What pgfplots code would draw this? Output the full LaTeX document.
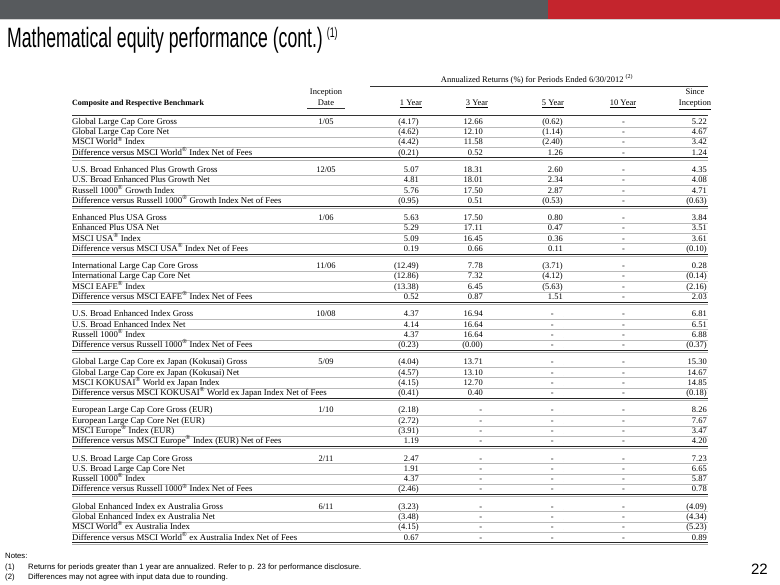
\documentclass[border=0pt]{standalone}
\usepackage{pgfplots}
\pgfplotsset{compat=1.18}
\usepackage{pgfplotstable}
\usepackage{fontspec}
\setmainfont{Liberation Serif}
\newfontfamily\titlefont[FakeStretch=0.63]{Liberation Sans}
\newfontfamily\notefont{Liberation Sans}
\definecolor{barGray}{RGB}{87,90,93}
\definecolor{barRed}{RGB}{196,37,45}
\protected\def\R{\textsuperscript{\textregistered}\space}
\def\tabsize{\fontsize{8.5bp}{10bp}\selectfont}
\def\namesize{\fontsize{8.8bp}{10bp}\selectfont}
\def\dashstr{-}
\newcommand\cell[2]{\edef\tmp{#1}\ifx\tmp\dashstr -\hspace*{#2}\else#1\fi}
\pgfplotsset{txt/.style={only marks, mark=*, mark size=0pt, mark options={draw=none, fill=none}, scatter/use mapped color={draw=none, fill=none}, point meta=explicit symbolic, forget plot}}

\pgfplotstableread[col sep=semicolon]{
g;r;name;y1;y3;y5;y10;si
0;0;Global Large Cap Core Gross;(4.17);12.66;(0.62);-;5.22
0;1;Global Large Cap Core Net;(4.62);12.10;(1.14);-;4.67
0;2;MSCI World\R Index;(4.42);11.58;(2.40);-;3.42
0;3;Difference versus MSCI World\R Index Net of Fees;(0.21);0.52;1.26;-;1.24
1;0;U.S. Broad Enhanced Plus Growth Gross;5.07;18.31;2.60;-;4.35
1;1;U.S. Broad Enhanced Plus Growth Net;4.81;18.01;2.34;-;4.08
1;2;Russell 1000\R Growth Index;5.76;17.50;2.87;-;4.71
1;3;Difference versus Russell 1000\R Growth Index Net of Fees;(0.95);0.51;(0.53);-;(0.63)
2;0;Enhanced Plus USA Gross;5.63;17.50;0.80;-;3.84
2;1;Enhanced Plus USA Net;5.29;17.11;0.47;-;3.51
2;2;MSCI USA\R Index;5.09;16.45;0.36;-;3.61
2;3;Difference versus MSCI USA\R Index Net of Fees;0.19;0.66;0.11;-;(0.10)
3;0;International Large Cap Core Gross;(12.49);7.78;(3.71);-;0.28
3;1;International Large Cap Core Net;(12.86);7.32;(4.12);-;(0.14)
3;2;MSCI EAFE\R Index;(13.38);6.45;(5.63);-;(2.16)
3;3;Difference versus MSCI EAFE\R Index Net of Fees;0.52;0.87;1.51;-;2.03
4;0;U.S. Broad Enhanced Index Gross;4.37;16.94;-;-;6.81
4;1;U.S. Broad Enhanced Index Net;4.14;16.64;-;-;6.51
4;2;Russell 1000\R Index;4.37;16.64;-;-;6.88
4;3;Difference versus Russell 1000\R Index Net of Fees;(0.23);(0.00);-;-;(0.37)
5;0;Global Large Cap Core ex Japan (Kokusai) Gross;(4.04);13.71;-;-;15.30
5;1;Global Large Cap Core ex Japan (Kokusai) Net;(4.57);13.10;-;-;14.67
5;2;MSCI KOKUSAI\R World ex Japan Index;(4.15);12.70;-;-;14.85
5;3;Difference versus MSCI KOKUSAI\R World ex Japan Index Net of Fees;(0.41);0.40;-;-;(0.18)
6;0;European Large Cap Core Gross (EUR);(2.18);-;-;-;8.26
6;1;European Large Cap Core Net (EUR);(2.72);-;-;-;7.67
6;2;MSCI Europe\R Index (EUR);(3.91);-;-;-;3.47
6;3;Difference versus MSCI Europe\R Index (EUR) Net of Fees;1.19;-;-;-;4.20
7;0;U.S. Broad Large Cap Core Gross;2.47;-;-;-;7.23
7;1;U.S. Broad Large Cap Core Net;1.91;-;-;-;6.65
7;2;Russell 1000\R Index;4.37;-;-;-;5.87
7;3;Difference versus Russell 1000\R Index Net of Fees;(2.46);-;-;-;0.78
8;0;Global Enhanced Index ex Australia Gross;(3.23);-;-;-;(4.09)
8;1;Global Enhanced Index ex Australia Net;(3.48);-;-;-;(4.34)
8;2;MSCI World\R ex Australia Index;(4.15);-;-;-;(5.23)
8;3;Difference versus MSCI World\R ex Australia Index Net of Fees;0.67;-;-;-;0.89
}\tbl

\pgfplotstableread[col sep=semicolon]{
g;date
0;1/05
1;12/05
2;1/06
3;11/06
4;10/08
5;5/09
6;1/10
7;2/11
8;6/11
}\dates

\begin{document}
\begin{tikzpicture}
\useasboundingbox (0,0) rectangle (780bp,585bp);
\fill[white] (0,0) rectangle (780bp,585bp);
\begin{axis}[at={(0,0)}, anchor=south west, width=780bp, height=585bp, scale only axis,
  xmin=0, xmax=780, ymin=0, ymax=585, y dir=reverse, hide axis, clip=false]
% top bars
\fill[barGray] (axis cs:0,0) rectangle (axis cs:548,19);
\fill[barRed] (axis cs:548,0) rectangle (axis cs:780,19);
\draw[gray!35, line width=1bp] (axis cs:0,19.5) -- (axis cs:780,19.5);
% title
\node[anchor=base west, inner sep=0pt] at (axis cs:7,48)
  {\titlefont\fontsize{28bp}{30bp}\selectfont Mathematical equity performance (cont.)\hspace{4bp}\raisebox{10bp}{\fontsize{14bp}{16bp}\selectfont(1)}};
% header
\node[anchor=base, inner sep=0pt] at (axis cs:537,82.5) {\tabsize Annualized Returns (\%) for Periods Ended 6/30/2012 \textsuperscript{(2)}};
\draw[gray!40!black, line width=0.9bp] (axis cs:370,86.5) -- (axis cs:708,86.5);
\node[anchor=base, inner sep=0pt] at (axis cs:326,94.5) {\tabsize Inception};
\node[anchor=base, inner sep=0pt] at (axis cs:326,105.5) {\tabsize Date};
\draw[gray!40!black, line width=0.8bp] (axis cs:307,108.5) -- (axis cs:345,108.5);
\node[anchor=base west, inner sep=0pt] at (axis cs:72,105.5) {\fontsize{8bp}{10bp}\selectfont\bfseries Composite and Respective Benchmark};
\node[anchor=base, inner sep=0pt] at (axis cs:411,105.5) {\tabsize\underline{1 Year}};
\node[anchor=base, inner sep=0pt] at (axis cs:477,105.5) {\tabsize\underline{3 Year}};
\node[anchor=base, inner sep=0pt] at (axis cs:553,105.5) {\tabsize\underline{5 Year}};
\node[anchor=base, inner sep=0pt] at (axis cs:623,105.5) {\tabsize\underline{10 Year}};
\node[anchor=base, inner sep=0pt] at (axis cs:695,94.5) {\tabsize Since};
\node[anchor=base, inner sep=0pt] at (axis cs:695,105.5) {\tabsize\underline{Inception}};
\draw[gray!40!black, line width=0.9bp] (axis cs:72,115) -- (axis cs:708,115);
% row rules
\pgfplotsinvokeforeach{0,...,8}{
  \draw[gray!55, line width=0.5bp] (axis cs:72,{124.3+48.1*#1+2.6}) -- (axis cs:708,{124.3+48.1*#1+2.6});
  \draw[gray!55, line width=0.5bp] (axis cs:72,{124.3+48.1*#1+12.9}) -- (axis cs:708,{124.3+48.1*#1+12.9});
  \draw[gray!55, line width=0.5bp] (axis cs:72,{124.3+48.1*#1+23.2}) -- (axis cs:708,{124.3+48.1*#1+23.2});
  \draw[gray!30!black, line width=0.8bp] (axis cs:72,{124.3+48.1*#1+33.5}) -- (axis cs:708,{124.3+48.1*#1+33.5});
  \draw[gray!60, line width=1bp] (axis cs:72,{124.3+48.1*#1+35.8}) -- (axis cs:708,{124.3+48.1*#1+35.8});
}
% table text
\addplot[txt, nodes near coords={\pgfplotspointmeta}, every node near coord/.style={anchor=base west, inner sep=0pt, font=\namesize}]
  table[x expr=72, y expr={124.3+48.1*\thisrow{g}+10.3*\thisrow{r}}, meta=name]{\tbl};
\addplot[txt, nodes near coords={\pgfplotspointmeta}, every node near coord/.style={anchor=base, inner sep=0pt, font=\tabsize}]
  table[x expr=326, y expr={124.3+48.1*\thisrow{g}}, meta=date]{\dates};
\addplot[txt, nodes near coords={\cell{\pgfplotspointmeta}{0bp}}, every node near coord/.style={anchor=base east, inner sep=0pt, font=\tabsize}]
  table[x expr=419, y expr={124.3+48.1*\thisrow{g}+10.3*\thisrow{r}}, meta=y1]{\tbl};
\addplot[txt, nodes near coords={\cell{\pgfplotspointmeta}{0.7bp}}, every node near coord/.style={anchor=base east, inner sep=0pt, font=\tabsize}]
  table[x expr=483, y expr={124.3+48.1*\thisrow{g}+10.3*\thisrow{r}}, meta=y3]{\tbl};
\addplot[txt, nodes near coords={\cell{\pgfplotspointmeta}{9bp}}, every node near coord/.style={anchor=base east, inner sep=0pt, font=\tabsize}]
  table[x expr=563, y expr={124.3+48.1*\thisrow{g}+10.3*\thisrow{r}}, meta=y5]{\tbl};
\addplot[txt, nodes near coords={\pgfplotspointmeta}, every node near coord/.style={anchor=base, inner sep=0pt, font=\tabsize}]
  table[x expr=623.5, y expr={124.3+48.1*\thisrow{g}+10.3*\thisrow{r}}, meta=y10]{\tbl};
\addplot[txt, nodes near coords={\cell{\pgfplotspointmeta}{0bp}}, every node near coord/.style={anchor=base east, inner sep=0pt, font=\tabsize}]
  table[x expr=707, y expr={124.3+48.1*\thisrow{g}+10.3*\thisrow{r}}, meta=si]{\tbl};
% notes
\node[anchor=base west, inner sep=0pt] at (axis cs:5,558.5) {\notefont\fontsize{7.7bp}{9bp}\selectfont Notes:};
\node[anchor=base west, inner sep=0pt] at (axis cs:5,569.5) {\notefont\fontsize{7.7bp}{9bp}\selectfont (1)};
\node[anchor=base west, inner sep=0pt] at (axis cs:28,569.5) {\notefont\fontsize{7.7bp}{9bp}\selectfont Returns for periods greater than 1 year are annualized. Refer to p. 23 for performance disclosure.};
\node[anchor=base west, inner sep=0pt] at (axis cs:5,579.5) {\notefont\fontsize{7.7bp}{9bp}\selectfont (2)};
\node[anchor=base west, inner sep=0pt] at (axis cs:28,579.5) {\notefont\fontsize{7.7bp}{9bp}\selectfont Differences may not agree with input data due to rounding.};
\node[anchor=base east, inner sep=0pt] at (axis cs:768,574.5) {\notefont\fontsize{15bp}{18bp}\selectfont 22};
\end{axis}
\end{tikzpicture}
\end{document}
